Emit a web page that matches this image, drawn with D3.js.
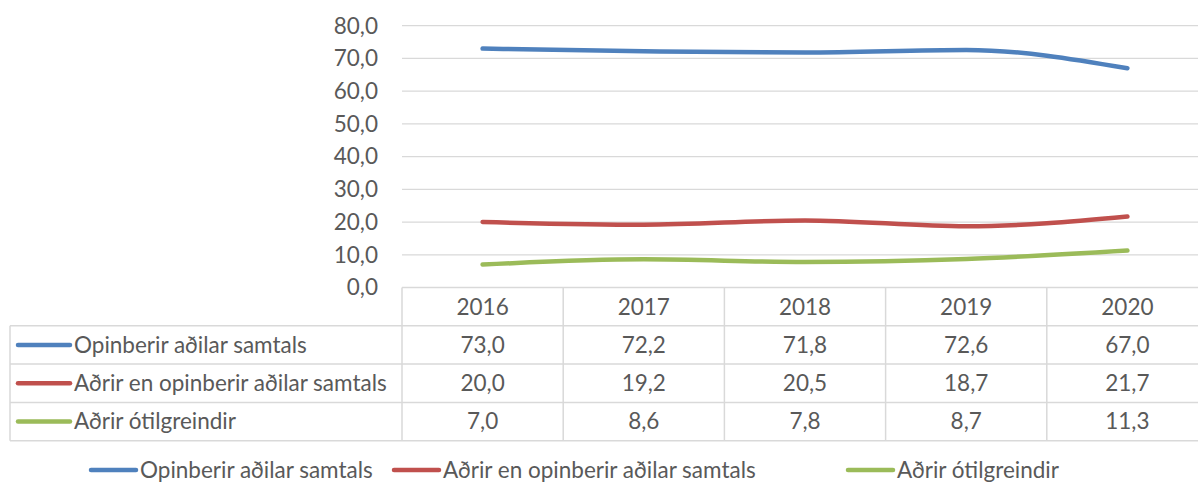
<!DOCTYPE html>
<html>
<head>
<meta charset="utf-8">
<script src="https://cdn.jsdelivr.net/npm/d3@7"></script>
<style>
  body { margin: 0; background: #fff; }
  svg { display: block; }
  text { font-family: Lato, "Open Sans", sans-serif; fill: #595959; font-size: 22.5px; }
</style>
</head>
<body>
<div id="chart"></div>
<script>
// Data
const years = ["2016", "2017", "2018", "2019", "2020"];
const seriesNames = ["Opinberir aðilar samtals", "Aðrir en opinberir aðilar samtals", "Aðrir ótilgreindir"];
const opinberir = [73.0, 72.2, 71.8, 72.6, 67.0];
const adrirEn = [20.0, 19.2, 20.5, 18.7, 21.7];
const otilgreindir = [7.0, 8.6, 7.8, 8.7, 11.3];
const yTicks = [0, 10, 20, 30, 40, 50, 60, 70, 80];

const colors = ["#4F81BD", "#C0504D", "#9BBB59"];
const series = [opinberir, adrirEn, otilgreindir].map((v, i) => ({ name: seriesNames[i], values: v, color: colors[i] }));

const width = 1198, height = 485;
const plotLeft = 402, plotRight = 1208, plotTop = 25.7, plotBottom = 287.5;
const tableLeft = 10, rowH = 38.3;
const fmt = v => d3.format(".1f")(v).replace(".", ",");

const svg = d3.select("#chart").append("svg")
    .attr("width", width)
    .attr("height", height);

const x = d3.scaleBand().domain(years).range([plotLeft, plotRight]);
const y = d3.scaleLinear().domain([0, 80]).range([plotBottom, plotTop]);

// Gridlines
svg.append("g")
    .selectAll("line")
    .data(yTicks.filter(d => d > 0))
    .join("line")
    .attr("x1", plotLeft).attr("x2", plotRight)
    .attr("y1", d => y(d)).attr("y2", d => y(d))
    .attr("stroke", "#D9D9D9").attr("stroke-width", 1.3);

// Y axis labels
svg.append("g")
    .selectAll("text")
    .data(yTicks)
    .join("text")
    .attr("x", 378)
    .attr("y", d => y(d))
    .attr("dy", "0.35em")
    .attr("text-anchor", "end")
    .text(d => fmt(d));

// Lines (smoothed, like Excel)
const line = d3.line()
    .x((d, i) => x(years[i]) + x.bandwidth() / 2)
    .y(d => y(d))
    .curve(d3.curveMonotoneX);

svg.append("g")
    .selectAll("path")
    .data(series)
    .join("path")
    .attr("d", d => line(d.values))
    .attr("fill", "none")
    .attr("stroke", d => d.color)
    .attr("stroke-width", 4.5)
    .attr("stroke-linecap", "round");

// Data table
const table = svg.append("g");
const tableBottom = plotBottom + rowH * 4;
const border = "#D9D9D9";

// horizontal lines
const hLines = [
    { y: plotBottom, x1: plotLeft },
    { y: plotBottom + rowH, x1: tableLeft },
    { y: plotBottom + rowH * 2, x1: tableLeft },
    { y: plotBottom + rowH * 3, x1: tableLeft },
    { y: tableBottom, x1: tableLeft }
];
table.selectAll("line.h")
    .data(hLines)
    .join("line")
    .attr("class", "h")
    .attr("x1", d => d.x1).attr("x2", plotRight)
    .attr("y1", d => d.y).attr("y2", d => d.y)
    .attr("stroke", border).attr("stroke-width", 1.5);

// vertical lines
const vx = years.map(d => x(d)).concat([plotRight]);
table.selectAll("line.v")
    .data(vx)
    .join("line")
    .attr("class", "v")
    .attr("x1", d => d).attr("x2", d => d)
    .attr("y1", plotBottom).attr("y2", tableBottom)
    .attr("stroke", border).attr("stroke-width", 1.5);
table.append("line")
    .attr("x1", tableLeft).attr("x2", tableLeft)
    .attr("y1", plotBottom + rowH).attr("y2", tableBottom)
    .attr("stroke", border).attr("stroke-width", 1.5);

// year header
table.selectAll("text.year")
    .data(years)
    .join("text")
    .attr("class", "year")
    .attr("x", d => x(d) + x.bandwidth() / 2)
    .attr("y", plotBottom + rowH / 2)
    .attr("dy", "0.35em")
    .attr("text-anchor", "middle")
    .text(d => d);

// rows
series.forEach((s, r) => {
    const cy = plotBottom + rowH * (r + 1) + rowH / 2;
    table.append("line")
        .attr("x1", 18).attr("x2", 70)
        .attr("y1", cy).attr("y2", cy)
        .attr("stroke", s.color).attr("stroke-width", 4.5)
        .attr("stroke-linecap", "round");
    table.append("text")
        .attr("x", 74).attr("y", cy).attr("dy", "0.35em")
        .text(s.name);
    table.selectAll(null)
        .data(s.values)
        .join("text")
        .attr("x", (d, i) => x(years[i]) + x.bandwidth() / 2)
        .attr("y", cy).attr("dy", "0.35em")
        .attr("text-anchor", "middle")
        .text(d => fmt(d));
});

// Legend
const legendX = [91, 394, 848];
const legend = svg.append("g")
    .selectAll("g")
    .data(series)
    .join("g")
    .attr("transform", (d, i) => `translate(${legendX[i]},470)`);
legend.append("line")
    .attr("x1", 0).attr("x2", 45)
    .attr("stroke", d => d.color).attr("stroke-width", 4.5)
    .attr("stroke-linecap", "round");
legend.append("text")
    .attr("x", 49).attr("dy", "0.35em")
    .text(d => d.name);
</script>
</body>
</html>
